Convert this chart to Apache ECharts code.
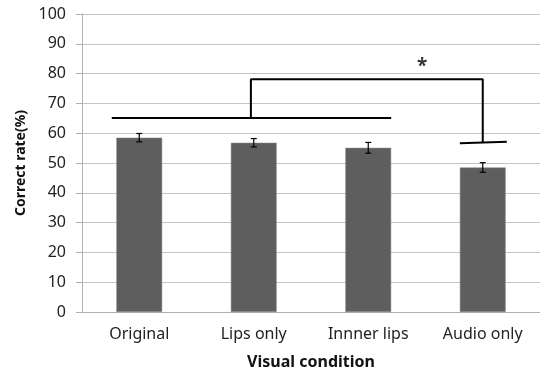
<!DOCTYPE html>
<html><head><meta charset="utf-8">
<script src="https://cdn.jsdelivr.net/npm/echarts@6/dist/echarts.min.js"></script>
<style>html,body{margin:0;padding:0;background:#fff}#c{width:540px;height:378px}</style>
</head><body><div id="c"></div>
<script>
var categories = ['Original', 'Lips only', 'Innner lips', 'Audio only'];
var values = [58.5, 56.8, 55.1, 48.5];
var errors = [1.4, 1.4, 1.8, 1.6];
var yTicks = [0, 10, 20, 30, 40, 50, 60, 70, 80, 90, 100];
// significance annotations: [x (category index), y (%)]
var sigLine = [[-0.24, 65.1], [2.2, 65.1]];
var sigBracket = [[0.975, 65.1], [0.975, 78.1], [3.0, 78.1], [3.0, 56.9]];
var sigCap = [[2.8, 56.6], [3.21, 57.1]];
var sigStar = [[2.47, 83.5]];

var font = 'Noto Sans';
var chart = echarts.init(document.getElementById('c'));
var lineStyle = {color: '#000', width: 2};
chart.setOption({
  animation: false,
  textStyle: {fontFamily: font},
  grid: {left: 82, right: 0, top: 14, bottom: 66},
  xAxis: [{
    type: 'category', data: categories,
    axisLine: {lineStyle: {color: '#b0b0b0'}},
    axisTick: {show: false},
    axisLabel: {color: '#222', fontSize: 16, margin: 14, fontFamily: font},
    name: 'Visual condition', nameLocation: 'middle', nameGap: 42,
    nameTextStyle: {color: '#111', fontSize: 16, fontWeight: 'bold', fontFamily: font}
  }, {
    type: 'value', min: -0.5, max: 3.5, show: false
  }],
  yAxis: {
    type: 'value', min: 0, max: 100, interval: 10,
    axisLine: {show: true, onZero: false, lineStyle: {color: '#b0b0b0'}},
    axisTick: {show: true, length: 6, lineStyle: {color: '#b0b0b0'}},
    axisLabel: {color: '#222', fontSize: 16, margin: 16, fontFamily: font,
      formatter: function (v) { return yTicks.indexOf(v) >= 0 ? String(v) : ''; }},
    splitLine: {lineStyle: {color: '#c4c4c4', width: 1}},
    name: 'Correct rate(%)', nameLocation: 'middle', nameGap: 53,
    nameTextStyle: {color: '#111', fontSize: 14, fontWeight: 'bold', fontFamily: font}
  },
  series: [{
    type: 'bar', data: values, barWidth: '40%',
    itemStyle: {color: '#5e5e5e', borderColor: '#8a8a8a', borderWidth: 0.5}
  }, {
    type: 'custom',
    data: values.map(function (v, i) { return [i, v - errors[i], v + errors[i]]; }),
    renderItem: function (params, api) {
      var lo = api.coord([api.value(0), api.value(1)]);
      var hi = api.coord([api.value(0), api.value(2)]);
      var x = lo[0], w = 3;
      var st = {stroke: '#000', lineWidth: 1.2};
      return {type: 'group', children: [
        {type: 'line', shape: {x1: x, y1: lo[1], x2: x, y2: hi[1]}, style: st},
        {type: 'line', shape: {x1: x - w, y1: lo[1], x2: x + w, y2: lo[1]}, style: st},
        {type: 'line', shape: {x1: x - w, y1: hi[1], x2: x + w, y2: hi[1]}, style: st}
      ]};
    },
    z: 5
  }, {
    type: 'line', xAxisIndex: 1, data: sigLine, symbol: 'none', lineStyle: lineStyle, z: 6
  }, {
    type: 'line', xAxisIndex: 1, data: sigBracket, symbol: 'none', lineStyle: lineStyle, z: 6
  }, {
    type: 'line', xAxisIndex: 1, data: sigCap, symbol: 'none', lineStyle: lineStyle, z: 6
  }, {
    type: 'scatter', xAxisIndex: 1, data: sigStar, symbolSize: 0,
    label: {show: true, position: 'inside', formatter: '*', color: '#000', fontSize: 19, fontWeight: 'bold', fontFamily: font, offset: [0, 3]},
    z: 6
  }]
});
</script></body></html>
